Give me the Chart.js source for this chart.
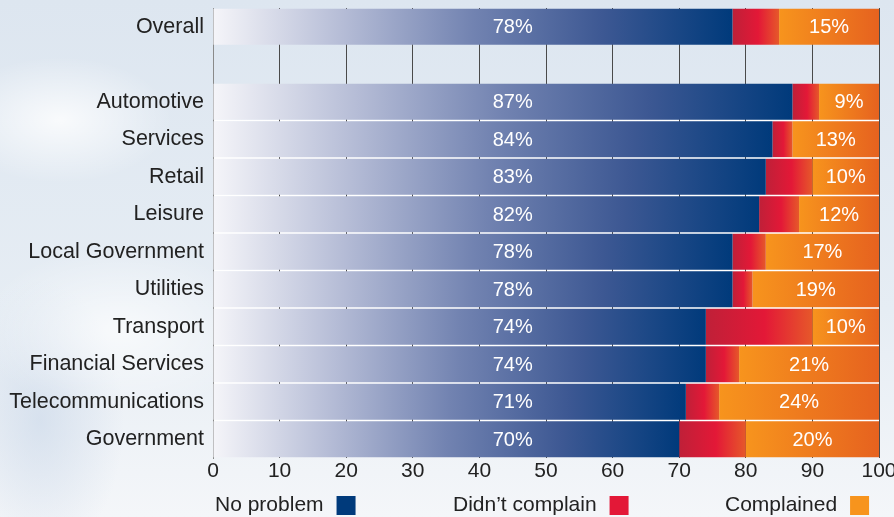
<!DOCTYPE html>
<html lang="en">
<head>
  <meta charset="UTF-8" />
  <title>Complaints by sector</title>
  <script src="https://cdn.jsdelivr.net/npm/chart.js"></script>
  <style>
    html, body { margin: 0; padding: 0; overflow: hidden; }
    body {
      width: 894px; height: 517px;
      background:
        radial-gradient(ellipse 160px 90px at 60px 120px, rgba(255,255,255,0.8), rgba(255,255,255,0) 70%),
        radial-gradient(ellipse 200px 120px at 120px 330px, rgba(255,255,255,0.7), rgba(255,255,255,0) 70%),
        radial-gradient(ellipse 120px 200px at 40px 420px, rgba(200,214,232,0.6), rgba(200,214,232,0) 70%),
        linear-gradient(180deg, #dde6f0 0%, #e6edf4 60%, #f4f6f9 100%);
    }
    .wrap { position: relative; width: 894px; height: 517px; }
  </style>
</head>
<body>
  <div class="wrap">
    <canvas id="sectorChart"></canvas>
  </div>

<script>
  // categories (empty row separates Overall from the sectors)
  const categories = ['Overall', '', 'Automotive', 'Services', 'Retail', 'Leisure',
    'Local Government', 'Utilities', 'Transport', 'Financial Services',
    'Telecommunications', 'Government'];

  const noProblem     = [78, null, 87, 84, 83, 82, 78, 78, 74, 74, 71, 70];
  const didntComplain = [7,  null, 4,  3,  7,  6,  5,  3,  16, 5,  5,  10];
  const complained    = [15, null, 9,  13, 10, 12, 17, 19, 10, 21, 24, 20];

  const xTicks = [0, 10, 20, 30, 40, 50, 60, 70, 80, 90, 100];
  const seriesNames = ['No problem', 'Didn\u2019t complain', 'Complained'];

  const FONT = '"Liberation Sans", Arial, Helvetica, sans-serif';

  // gradient stops per series, stretched over each segment
  const stops = [
    [[0, '#f5f5f9'], [0.25, '#b5bcd6'], [0.5, '#7283b1'], [0.75, '#3d5893'], [1, '#003a7b']],
    [[0, '#bf2038'], [0.55, '#e31837'], [1, '#e6582a']],
    [[0, '#f7941d'], [1, '#e6621f']]
  ];
  const solid = ['#003a7b', '#e31837', '#f7941d'];

  function segGradient(ctx, series) {
    const chart = ctx.chart;
    const x = chart.scales.x;
    const i = ctx.dataIndex;
    if (!chart.chartArea || !x || noProblem[i] == null) return solid[series];
    const bounds = [0, noProblem[i], noProblem[i] + didntComplain[i], 100];
    const x0 = x.getPixelForValue(bounds[series]);
    const x1 = x.getPixelForValue(bounds[series + 1]);
    const g = chart.ctx.createLinearGradient(x0, 0, x1, 0);
    stops[series].forEach(s => g.addColorStop(s[0], s[1]));
    return g;
  }

  // thin white separators between the sector rows (drawn under the grid)
  const rowSeparators = {
    id: 'rowSeparators',
    beforeDraw(chart) {
      const { ctx, chartArea, scales: { y } } = chart;
      if (!y) return;
      ctx.save();
      ctx.fillStyle = '#ffffff';
      for (let i = 2; i < categories.length - 1; i++) {
        const mid = (y.getPixelForValue(i) + y.getPixelForValue(i + 1)) / 2;
        ctx.fillRect(chartArea.left, mid - 1, chartArea.right - chartArea.left, 2);
      }
      ctx.restore();
    }
  };

  // value labels: "no problem" share sits at a fixed spot, complained share centred in its segment
  const valueLabels = {
    id: 'valueLabels',
    afterDatasetsDraw(chart) {
      const { ctx, scales: { x, y } } = chart;
      ctx.save();
      ctx.font = '20px ' + FONT;
      ctx.fillStyle = '#ffffff';
      ctx.textAlign = 'center';
      ctx.textBaseline = 'middle';
      categories.forEach((c, i) => {
        if (noProblem[i] == null) return;
        const yy = y.getPixelForValue(i) + 1;
        ctx.fillText(noProblem[i] + '%', x.getPixelForValue(45), yy);
        const start = noProblem[i] + didntComplain[i];
        ctx.fillText(complained[i] + '%', x.getPixelForValue(start + complained[i] / 2), yy);
      });
      ctx.restore();
    }
  };

  // legend below the axis, swatch to the right of each name
  const sideLegend = {
    id: 'sideLegend',
    afterDraw(chart) {
      const { ctx } = chart;
      const startX = [215, 453, 725];
      const y = 505;
      ctx.save();
      ctx.font = '21px ' + FONT;
      ctx.textBaseline = 'middle';
      ctx.textAlign = 'left';
      seriesNames.forEach((name, k) => {
        ctx.fillStyle = '#222';
        ctx.fillText(name, startX[k], y);
        const w = ctx.measureText(name).width;
        ctx.fillStyle = solid[k];
        ctx.fillRect(startX[k] + w + 13, y - 9, 19, 19);
      });
      ctx.restore();
    }
  };

  const datasets = [noProblem, didntComplain, complained].map((vals, k) => ({
    label: seriesNames[k],
    data: vals,
    backgroundColor: ctx => segGradient(ctx, k),
    borderWidth: 0,
    barPercentage: 1,
    categoryPercentage: 0.955
  }));

  new Chart(document.getElementById('sectorChart'), {
    type: 'bar',
    data: { labels: categories, datasets },
    options: {
      indexAxis: 'y',
      responsive: true,
      maintainAspectRatio: false,
      animation: false,
      layout: { padding: { top: 8, right: 15, bottom: 31, left: 0 } },
      plugins: {
        legend: { display: false },
        tooltip: { enabled: false }
      },
      scales: {
        x: {
          stacked: true,
          min: 0,
          max: 100,
          afterBuildTicks: scale => { scale.ticks = xTicks.map(v => ({ value: v })); },
          afterFit: scale => {
            scale.height = 28;
            scale.paddingLeft = 0;
            scale.paddingRight = 0;
          },
          grid: { color: '#4a4a4a', lineWidth: 1, drawTicks: false },
          border: { display: false },
          ticks: { color: '#222', font: { family: FONT, size: 21 }, padding: 1 }
        },
        y: {
          stacked: true,
          afterFit: scale => {
            scale.width = 213;
            scale.paddingTop = 0;
            scale.paddingBottom = 0;
          },
          grid: { display: false, drawTicks: false },
          border: { display: true, color: '#8a8a8a' },
          ticks: { color: '#222', font: { family: FONT, size: 21.5 }, padding: 9 }
        }
      }
    },
    plugins: [rowSeparators, valueLabels, sideLegend]
  });
</script>
</body>
</html>
